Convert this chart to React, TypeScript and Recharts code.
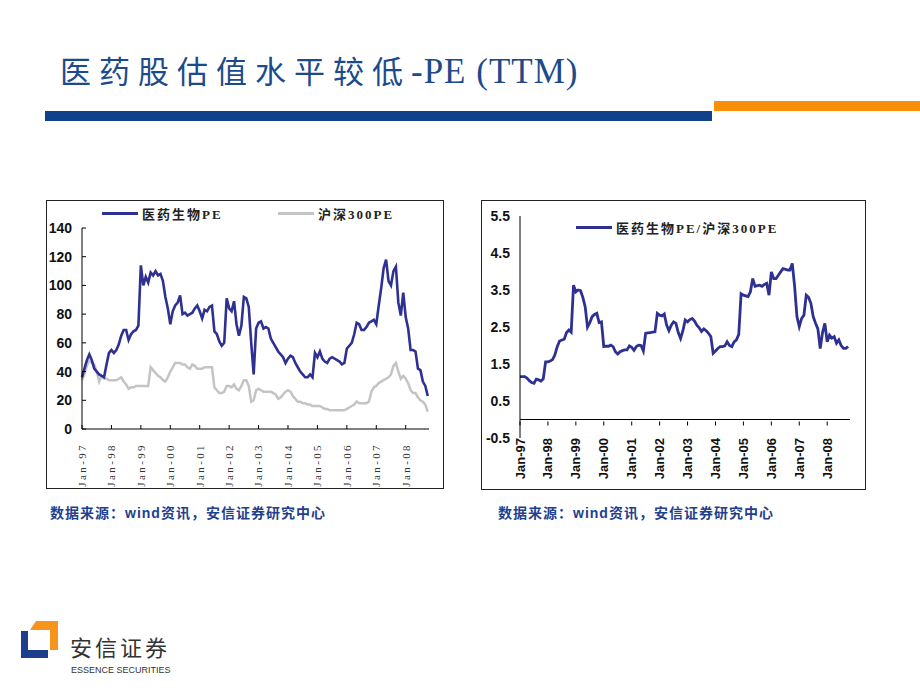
import React from 'react';
import { LineChart, Line, XAxis, YAxis, ReferenceLine } from 'recharts';

// monthly samples, Jan-97 .. Oct-08 (index 0 = Jan-97)
const yearTicks = ['Jan-97', 'Jan-98', 'Jan-99', 'Jan-00', 'Jan-01', 'Jan-02', 'Jan-03', 'Jan-04', 'Jan-05', 'Jan-06', 'Jan-07', 'Jan-08'];

const pharmaPE = [
  36, 42, 48, 52, 48, 42, 40, 38, 37, 36, 45, 53,
  55, 53, 55, 59, 65, 69, 69, 62, 66, 68, 69, 72,
  114, 100, 106, 102, 109, 107, 110, 107, 108, 103, 92, 84,
  73, 82, 86, 88, 93, 80, 81, 79, 80, 81, 84, 86,
  82, 77, 83, 82, 85, 86, 68, 66, 61, 58, 60, 91,
  84, 82, 89, 73, 65, 72, 92, 91, 85, 60, 38, 70,
  74, 75, 70, 71, 70, 63, 60, 57, 54, 52, 50, 46,
  49, 51, 50, 46, 43, 40, 38, 36, 36, 38, 36, 53,
  50, 54, 49, 47, 46, 49, 50, 49, 48, 47, 45, 46,
  56, 58, 60, 66, 74, 73, 69, 69, 71, 74, 75, 76,
  73, 86, 98, 112, 118, 103, 100, 110, 113, 88, 79, 95,
  78, 70, 55, 55, 54, 42, 41, 33, 30, 23,
];

const hs300PE = [
  34, 38, 44, 48, 46, 45, 40, 33, 37, 35, 35, 34,
  34, 34, 34, 35, 36, 33, 31, 28, 29, 29, 30, 30,
  30, 30, 30, 30, 43, 41, 39, 37, 36, 34, 33, 36,
  40, 43, 46, 46, 46, 45, 45, 43, 42, 45, 44, 42,
  42, 42, 43, 43, 43, 43, 29, 27, 25, 25, 26, 30,
  30, 29, 31, 28, 27, 30, 34, 34, 30, 19, 20, 27,
  28, 27, 26, 26, 26, 26, 25, 24, 21, 22, 24, 26,
  27, 26, 23, 21, 19, 19, 18, 18, 17, 17, 16, 16,
  16, 16, 15, 14, 14, 13, 13, 13, 13, 13, 13, 13,
  14, 15, 16, 17, 19, 18, 18, 18, 18, 19, 26, 29,
  30, 32, 33, 34, 35, 36, 38, 44, 46, 40, 35, 37,
  35, 32, 27, 25, 25, 22, 20, 19, 17, 12,
];

const relativePE = [
  1.16, 1.16, 1.16, 1.12, 1.05, 1.0, 0.98, 1.09, 1.07, 1.04, 1.1, 1.56,
  1.56, 1.58, 1.62, 1.75, 1.97, 2.12, 2.15, 2.17, 2.35, 2.42, 2.36, 3.63,
  3.45, 3.5, 3.48, 3.3, 3.05, 2.5, 2.62, 2.78, 2.84, 2.87, 2.62, 2.64,
  1.97, 1.98, 1.98, 2.01, 1.97, 1.83, 1.77, 1.83, 1.86, 1.88, 1.88, 1.99,
  1.95, 1.87, 1.97, 2.01, 2.0, 1.85, 2.33, 2.34, 2.35, 2.36, 2.37, 2.87,
  2.82, 2.8, 2.85, 2.55, 2.4, 2.55, 2.64, 2.6, 2.35, 2.19, 2.4, 2.69,
  2.64, 2.7, 2.73, 2.66, 2.55, 2.48, 2.38, 2.45, 2.4, 2.33, 2.24, 1.79,
  1.85, 1.92, 1.97, 1.97, 1.99, 2.1, 2.0, 1.97, 2.1, 2.15, 2.3, 3.4,
  3.36, 3.34, 3.32, 3.45, 3.81, 3.6, 3.62, 3.63, 3.6, 3.65, 3.68, 3.36,
  3.99, 3.81, 3.81, 3.9, 3.99, 4.08, 4.06, 4.04, 4.04, 4.22, 3.6, 2.78,
  2.51, 2.73, 2.82, 3.36, 3.3, 3.14, 2.78, 2.6, 2.45, 1.92, 2.35, 2.6,
  2.1, 2.28, 2.2, 2.24, 2.06, 2.15, 2.0, 1.92, 1.92, 1.97,
];

const leftYTicks = [0, 20, 40, 60, 80, 100, 120, 140];
const rightYTicks = [-0.5, 0.5, 1.5, 2.5, 3.5, 4.5, 5.5];

const leftData = pharmaPE.map((v, i) => ({ m: i, pharma: v, hs300: hs300PE[i] }));
const rightData = relativePE.map((v, i) => ({ m: i, ratio: v }));
const monthTicks = yearTicks.map((_, i) => i * 12);

const NAVY = '#2e3191';
const GRAY = '#c4c4c4';
const CJK = '"Liberation Serif", "Noto Sans CJK SC", serif';

const R_PLOT_H = 222;
const ZERO_OFF = (R_PLOT_H * 0.5) / 6;

const LeftXTick = ({ x, y, payload }: any) => (
  <g transform={`translate(${x},${y})`}>
    <text transform="rotate(-90)" textAnchor="end" dy="0.35em" fontFamily="Liberation Serif" fontSize={11} letterSpacing={2.4} fill="#333">
      {yearTicks[Math.round(payload.value / 12)]}
    </text>
  </g>
);

const RightXTick = ({ x, y, payload }: any) => (
  <g transform={`translate(${x},${y})`}>
    <line x1={0} x2={0} y1={-ZERO_OFF} y2={-ZERO_OFF - 4} stroke="#000" />
    <text transform="rotate(-90)" textAnchor="end" x={6} dy="0.35em" fontFamily="Liberation Sans" fontWeight="bold" fontSize={13} fill="#111">
      {yearTicks[Math.round(payload.value / 12)]}
    </text>
  </g>
);

const LegendItem = ({ left, top, color, label }: { left: number; top: number; color: string; label: string }) => (
  <div style={{ position: 'absolute', left, top, display: 'flex', alignItems: 'center', height: 16 }}>
    <div style={{ width: 36, height: 3, background: color, marginRight: 4 }} />
    <span style={{ fontFamily: CJK, fontWeight: 'bold', fontSize: 13, letterSpacing: 2, color: '#222', whiteSpace: 'nowrap' }}>{label}</span>
  </div>
);

const SourceNote = ({ left }: { left: number }) => (
  <div style={{ position: 'absolute', left, top: 502, fontFamily: '"Liberation Sans", "Noto Sans CJK SC", sans-serif', fontWeight: 'bold', fontSize: 14, letterSpacing: 1, color: '#1f3f8f', whiteSpace: 'nowrap' }}>
    数据来源：wind资讯，安信证券研究中心
  </div>
);

export default function App() {
  return (
    <div style={{ position: 'absolute', left: 0, top: 0, width: 920, height: 690, background: '#fff', overflow: 'hidden' }}>
      {/* title and header bars */}
      <div style={{ position: 'absolute', left: 60, top: 50, height: 40, lineHeight: '40px', color: '#1c4a8a', whiteSpace: 'nowrap' }}>
        <span style={{ fontFamily: '"Noto Sans CJK SC", sans-serif', fontSize: 31, letterSpacing: 8 }}>医药股估值水平较低</span>
        <span style={{ fontFamily: '"Liberation Serif", serif', fontSize: 35, letterSpacing: 1 }}>-PE (TTM)</span>
      </div>
      <div style={{ position: 'absolute', left: 45, top: 111, width: 667, height: 10, background: '#0f428a' }} />
      <div style={{ position: 'absolute', left: 714, top: 101, width: 206, height: 10, background: '#f98f07' }} />

      {/* left chart */}
      <div style={{ position: 'absolute', left: 46, top: 200, width: 396, height: 287, border: '1px solid #222' }}>
        <LineChart width={396} height={287} data={leftData} margin={{ top: 27, right: 14, bottom: 0, left: 0 }}>
          <XAxis
            dataKey="m"
            type="number"
            domain={[0, 141.5]}
            ticks={monthTicks}
            interval={0}
            height={59}
            stroke="#000"
            tickSize={-4}
            tickMargin={18}
            tick={<LeftXTick />}
          />
          <YAxis
            type="number"
            domain={[0, 140]}
            ticks={leftYTicks}
            interval={0}
            width={35}
            stroke="#000"
            tickSize={-4}
            tickMargin={14}
            tick={{ fontFamily: 'Liberation Sans', fontWeight: 'bold', fontSize: 14, fill: '#111' }}
          />
          <Line type="linear" dataKey="hs300" stroke={GRAY} strokeWidth={2.5} dot={false} isAnimationActive={false} />
          <Line type="linear" dataKey="pharma" stroke={NAVY} strokeWidth={2.6} dot={false} isAnimationActive={false} />
        </LineChart>
        <LegendItem left={55} top={4} color={NAVY} label="医药生物PE" />
        <LegendItem left={231} top={4} color={GRAY} label="沪深300PE" />
      </div>

      {/* right chart */}
      <div style={{ position: 'absolute', left: 481, top: 200, width: 383, height: 288, border: '1px solid #222' }}>
        <LineChart width={383} height={288} data={rightData} margin={{ top: 15, right: 15, bottom: 0, left: 0 }}>
          <XAxis
            dataKey="m"
            type="number"
            domain={[0, 141.8]}
            ticks={monthTicks}
            interval={0}
            height={51}
            axisLine={false}
            tickLine={false}
            tickMargin={0}
            tick={<RightXTick />}
          />
          <YAxis
            type="number"
            domain={[-0.5, 5.5]}
            ticks={rightYTicks}
            interval={0}
            width={38}
            stroke="#000"
            tickLine={false}
            tickMargin={4}
            tick={{ fontFamily: 'Liberation Sans', fontWeight: 'bold', fontSize: 14, fill: '#111' }}
          />
          <ReferenceLine y={0} stroke="#000" />
          <Line type="linear" dataKey="ratio" stroke={NAVY} strokeWidth={2.8} dot={false} isAnimationActive={false} />
        </LineChart>
        <LegendItem left={94} top={18} color={NAVY} label="医药生物PE/沪深300PE" />
      </div>

      <SourceNote left={50} />
      <SourceNote left={498} />

      {/* logo */}
      <svg style={{ position: 'absolute', left: 0, top: 600 }} width={80} height={80}>
        <polygon points="21,31 28,31 28,50 48,50 48,58 21,58" fill="#1b3f8b" />
        <polygon points="36,21 58,21 58,50 50,50 50,30 30,30" fill="#f7941d" />
      </svg>
      <div style={{ position: 'absolute', left: 70, top: 635, fontFamily: '"Noto Sans CJK SC", sans-serif', fontSize: 22, lineHeight: '22px', letterSpacing: 3, color: '#333', whiteSpace: 'nowrap' }}>
        安信证券
      </div>
      <div style={{ position: 'absolute', left: 71, top: 665, fontFamily: '"Liberation Sans", sans-serif', fontSize: 9, lineHeight: '10px', color: '#333', whiteSpace: 'nowrap' }}>
        ESSENCE SECURITIES
      </div>
    </div>
  );
}
